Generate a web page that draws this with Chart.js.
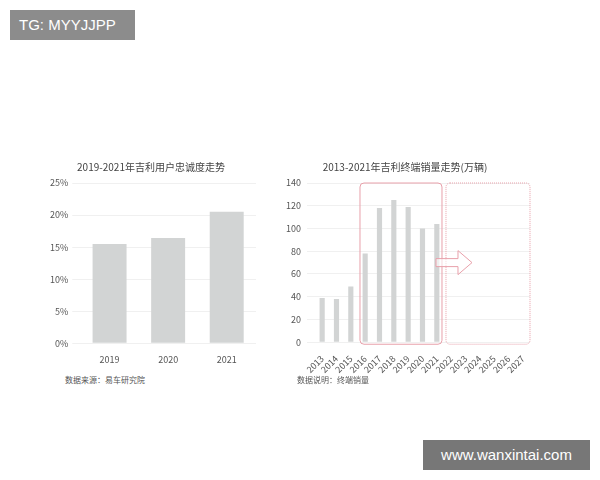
<!DOCTYPE html><html><head><meta charset="utf-8">
<script src="https://cdn.jsdelivr.net/npm/chart.js@4"></script>
<style>
body{margin:0;width:600px;height:480px;background:#fff;position:relative;font-family:"Noto Sans CJK SC","Noto Sans",sans-serif;overflow:hidden}
.c{position:absolute}
#tg{position:absolute;left:10px;top:10px;width:125px;height:30px;background:#8c8c8c;color:#fff;font-size:15px;line-height:30px;padding-left:9px;box-sizing:border-box;font-family:"Liberation Sans"}
#wx{position:absolute;left:423px;top:440px;width:167px;height:30px;background:#777;color:#fff;font-size:15px;line-height:30px;text-align:center;font-family:"Liberation Sans"}
.src{position:absolute;font-size:8px;color:#555}
</style></head><body>
<div id="tg">TG: MYYJJPP</div>
<div class="c" style="left:40px;top:155px;width:230px;height:213px"><canvas id="a"></canvas></div>
<div class="c" style="left:280px;top:155px;width:265px;height:223px"><canvas id="b"></canvas></div>
<div class="src" style="left:65px;top:374px">数据来源：易车研究院</div>
<div class="src" style="left:297px;top:374px">数据说明：终端销量</div>
<div id="wx">www.wanxintai.com</div>
<script>
const loyaltyYears=["2019","2020","2021"];
const loyaltyValues=[15.5,16.4,20.5];
const salesYears=["2013","2014","2015","2016","2017","2018","2019","2020","2021","2022","2023","2024","2025","2026","2027"];
const salesValues=[39,38,49,78,118,125,119,100,104,null,null,null,null,null,null];
const grid='#f0f0f0', tick='#555';
const font={family:'"Noto Sans CJK SC","Noto Sans",sans-serif',size:9};
new Chart(document.getElementById('a'),{type:'bar',
data:{labels:loyaltyYears,datasets:[{data:loyaltyValues,backgroundColor:'#d2d4d4',categoryPercentage:1,barPercentage:0.58}]},
options:{responsive:true,maintainAspectRatio:false,animation:false,
layout:{padding:{left:6,right:14,top:0}},
plugins:{legend:{display:false},title:{display:true,text:'2019-2021年吉利用户忠诚度走势',color:'#444',font:{...font,size:10,weight:'normal'},padding:{top:6,bottom:10}}},
scales:{x:{grid:{display:false},border:{display:false},ticks:{color:tick,font}},
y:{min:0,max:25,ticks:{stepSize:5,color:tick,font,callback:v=>v+'%',padding:4},grid:{color:grid},border:{display:false}}}}});
const boxes={id:'boxes',afterDatasetsDraw(c){const x=c.scales.x,y=c.scales.y,ctx=c.ctx;
const w=x.getPixelForValue(1)-x.getPixelForValue(0);
const top=y.getPixelForValue(140),bot=y.getPixelForValue(0);
ctx.save();ctx.strokeStyle='#e8a0aa';ctx.lineWidth=1;
const r=(x0,x1,d)=>{ctx.setLineDash(d);ctx.beginPath();ctx.roundRect(x0,top,x1-x0,bot-top+2,4);ctx.stroke();};
r(x.getPixelForValue(3)-w/2+2,x.getPixelForValue(8)+w/2-2,[]);
r(x.getPixelForValue(9)-w/2+2,x.getPixelForValue(14)+w/2,[1,1]);
const ax=x.getPixelForValue(8)+w/2-8,ay=y.getPixelForValue(70);
ctx.setLineDash([]);ctx.fillStyle='rgba(255,255,255,0.6)';ctx.beginPath();
ctx.moveTo(ax,ay-4);ctx.lineTo(ax+22,ay-4);ctx.lineTo(ax+22,ay-12);ctx.lineTo(ax+36,ay);ctx.lineTo(ax+22,ay+12);ctx.lineTo(ax+22,ay+4);ctx.lineTo(ax,ay+4);ctx.closePath();ctx.fill();ctx.stroke();
ctx.restore();}};
new Chart(document.getElementById('b'),{type:'bar',
data:{labels:salesYears,datasets:[{data:salesValues,backgroundColor:'#d2d4d4',categoryPercentage:1,barPercentage:0.36}]},
options:{responsive:true,maintainAspectRatio:false,animation:false,
layout:{padding:{left:0,right:15}},
plugins:{legend:{display:false},title:{display:true,text:'2013-2021年吉利终端销量走势(万辆)',color:'#444',font:{...font,size:10,weight:'normal'},padding:{top:6,bottom:10}}},
scales:{x:{grid:{display:false},border:{display:false},ticks:{color:tick,font,minRotation:45,maxRotation:45,autoSkip:false}},
y:{min:0,max:140,ticks:{stepSize:20,color:tick,font,padding:6},grid:{color:grid},border:{display:false}}}},
plugins:[boxes]});
</script></body></html>
